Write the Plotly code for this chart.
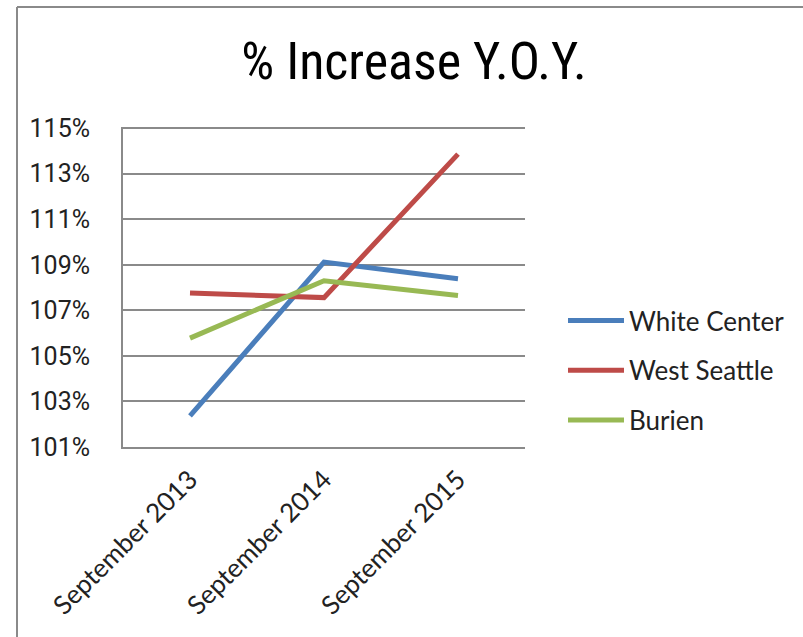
import plotly.graph_objects as go

categories = ["September 2013", "September 2014", "September 2015"]
white_center = [102.37, 109.12, 108.39]
west_seattle = [107.76, 107.56, 113.86]
burien = [105.78, 108.30, 107.65]
y_ticks = [101, 103, 105, 107, 109, 111, 113, 115]
y_tick_labels = ["101%", "103%", "105%", "107%", "109%", "111%", "113%", "115%"]

series = [
    ("White Center", white_center, "#4A7EBB"),
    ("West Seattle", west_seattle, "#BE4B48"),
    ("Burien", burien, "#98B954"),
]

fig = go.Figure()
for name, vals, color in series:
    fig.add_trace(go.Scatter(
        x=categories, y=vals, name=name, mode="lines",
        line=dict(color=color, width=5), legendgroup=name,
    ))

W, H = 803, 637
L, R, T, B = 123, 525, 127, 447
pw, ph = R - L, B - T

def px(x):
    return (x - L) / pw

def py(y):
    return (B - y) / ph

border = "#8A8A8A"
fig.add_shape(type="line", xref="paper", yref="paper",
              x0=px(17), x1=px(820), y0=py(7), y1=py(7),
              line=dict(color=border, width=2))
fig.add_shape(type="line", xref="paper", yref="paper",
              x0=px(17), x1=px(17), y0=py(7), y1=py(660),
              line=dict(color=border, width=2))

fig.update_layout(
    width=W, height=H,
    margin=dict(l=L, r=W - R, t=T, b=H - B, autoexpand=False),
    paper_bgcolor="white", plot_bgcolor="white",
    title=dict(text="% Increase Y.O.Y.", x=(414) / W, xanchor="center",
               y=1 - 61 / H, yanchor="middle",
               font=dict(family="Roboto Condensed, Noto Sans, sans-serif",
                         size=52, color="#000000")),
    showlegend=True,
    legend=dict(x=px(563), y=py(297), xanchor="left", yanchor="top",
                font=dict(family="Lato, Open Sans, sans-serif", size=26, color="#222222"),
                tracegroupgap=13, itemwidth=56, bgcolor="rgba(0,0,0,0)"),
    xaxis=dict(type="category", range=[-0.5, 2.5], showgrid=False,
               showline=True, linecolor=border, linewidth=2,
               tickangle=-45, ticks="", ticklabelstandoff=5,
               tickfont=dict(family="Lato, Open Sans, sans-serif", size=26, color="#222222")),
    yaxis=dict(range=[101, 115.05], tickvals=y_ticks, ticktext=y_tick_labels,
               showgrid=True, gridcolor=border, gridwidth=2,
               showline=True, linecolor=border, linewidth=2,
               zeroline=False, ticks="", ticklabelstandoff=26,
               tickfont=dict(family="Roboto, Liberation Sans, sans-serif", size=25, color="#222222")),
)

fig.write_html("out.html")
